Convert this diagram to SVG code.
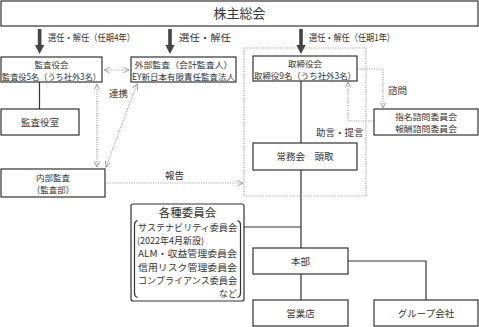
<svg xmlns="http://www.w3.org/2000/svg" width="479" height="327" viewBox="0 0 479 327">
<defs>
<marker id="ah" viewBox="0 0 10 10" refX="9" refY="5" markerWidth="7" markerHeight="7" orient="auto-start-reverse" markerUnits="userSpaceOnUse">
<path d="M1,1 L9,5 L1,9" fill="none" stroke="#999" stroke-width="1.3"/>
</marker>
</defs>
<style>
text{font-family:"Noto Sans CJK JP","Liberation Serif",serif;font-size:9.5px;fill:#333}
.c{text-anchor:middle}
.t2{font-size:8.5px}
.box{fill:#fff;stroke:#333;stroke-width:1.2}
.ln{fill:none;stroke:#333;stroke-width:1.2}
.dot{fill:none;stroke:#a8a8a8;stroke-width:1.2;stroke-dasharray:1.2 1.2}
.thick{fill:#444}
.k{font-size:9px}
</style>
<rect width="479" height="327" fill="#fff"/>
<g id="connectors">
<path class="ln" d="M301,81 V143 M301,170 V248 M244,227 H301 M301,274 V300 M348,261 H426 V300 M39.5,82 V109"/>
<rect class="dot" x="244" y="48" width="122" height="148"/>
<path class="dot" d="M104,70 H129" marker-start="url(#ah)" marker-end="url(#ah)"/>
<path class="dot" d="M97,84 V167" marker-start="url(#ah)" marker-end="url(#ah)"/>
<path class="dot" d="M137,84 L106,167" marker-start="url(#ah)" marker-end="url(#ah)"/>
<path class="dot" d="M105,183 H243" marker-end="url(#ah)"/>
<path class="dot" d="M357,69 H383 V108" marker-end="url(#ah)"/>
<path class="dot" d="M374,121 H348 V82" marker-end="url(#ah)"/>
<g class="thick">
<rect x="37.8" y="29" width="3.6" height="17"/><polygon points="35,45 44.2,45 39.6,54"/>
<rect x="168.2" y="29" width="3.6" height="17"/><polygon points="165.4,45 174.6,45 170,54"/>
<rect x="299.2" y="29" width="3.6" height="17"/><polygon points="296.4,45 305.6,45 301,54"/>
</g>
<text x="48" y="41" textLength="87" lengthAdjust="spacingAndGlyphs">選任・解任（任期4年）</text>
<text x="179" y="41" textLength="52" lengthAdjust="spacingAndGlyphs">選任・解任</text>
<text x="309" y="41" textLength="86" lengthAdjust="spacingAndGlyphs">選任・解任（任期1年）</text>
<text x="109" y="97">連携</text>
<text x="165" y="179">報告</text>
<text x="388" y="94">諮問</text>
<text x="316" y="136">助言・提言</text>
</g>
<g id="kabunushi">
<rect class="box" x="1" y="1" width="477" height="25"/>
<text class="c" x="239.5" y="18" style="font-size:13px">株主総会</text>
</g>
<g id="kansayakukai">
<rect class="box" x="1" y="57" width="101" height="25"/>
<text class="t2 c" x="51.5" y="67.5">監査役会</text>
<text class="t2" x="2" y="79.8" textLength="99" lengthAdjust="spacingAndGlyphs">監査役5名（うち社外3名）</text>
</g>
<g id="gaibu">
<rect class="box" x="131" y="57" width="105" height="25"/>
<text class="t2 c" x="183.5" y="67.5" textLength="98" lengthAdjust="spacingAndGlyphs">外部監査（会計監査人）</text>
<text class="t2" x="132" y="79.8" textLength="103" lengthAdjust="spacingAndGlyphs">EY新日本有限責任監査法人</text>
</g>
<g id="torishimariyakukai">
<rect class="box" x="253" y="56" width="104" height="25"/>
<text class="t2 c" x="305" y="66.5">取締役会</text>
<text class="t2" x="254" y="78.8" textLength="102" lengthAdjust="spacingAndGlyphs">取締役9名（うち社外3名）</text>
</g>
<g id="kansayakushitsu">
<rect class="box" x="1" y="109" width="78" height="26"/>
<text class="c" x="40" y="125.5">監査役室</text>
</g>
<g id="shimei">
<rect class="box" x="374" y="109" width="104" height="26"/>
<text class="t2 c" x="426" y="119.5" textLength="62" lengthAdjust="spacingAndGlyphs">指名諮問委員会</text>
<text class="t2 c" x="426" y="131.8" textLength="62" lengthAdjust="spacingAndGlyphs">報酬諮問委員会</text>
</g>
<g id="jomukai">
<rect class="box" x="253" y="143" width="104" height="27"/>
<text class="c" x="305" y="160">常務会　頭取</text>
</g>
<g id="naibu">
<rect class="box" x="1" y="169" width="104" height="28"/>
<text class="t2 c" x="53" y="181">内部監査</text>
<text class="t2 c" x="53" y="193.3">（監査部）</text>
</g>
<g id="iinkai">
<rect class="box" x="131" y="204" width="113" height="97" rx="2"/>
<text class="c" x="187.5" y="217" style="font-size:11.5px">各種委員会</text>
<path class="ln" d="M137.5,220.5 Q134.5,221.5 134.5,225 V293 Q134.5,296.5 137.5,297.5"/>
<path class="ln" d="M237.5,220.5 Q240.5,221.5 240.5,225 V293 Q240.5,296.5 237.5,297.5"/>
<text class="k" x="138" y="230.5" textLength="99" lengthAdjust="spacingAndGlyphs">サステナビリティ委員会</text>
<text class="k" x="137" y="243.5">(2022年4月新設)</text>
<text class="k" x="138" y="257" textLength="99" lengthAdjust="spacingAndGlyphs">ALM・収益管理委員会</text>
<text class="k" x="138" y="270.5" textLength="99" lengthAdjust="spacingAndGlyphs">信用リスク管理委員会</text>
<text class="k" x="138" y="284" textLength="99" lengthAdjust="spacingAndGlyphs">コンプライアンス委員会</text>
<text class="k" x="237" y="297" style="text-anchor:end">など</text>
</g>
<g id="honbu">
<rect class="box" x="253" y="248" width="95" height="26"/>
<text class="c" x="300.5" y="264.5">本部</text>
</g>
<g id="eigyoten">
<rect class="box" x="253" y="300" width="95" height="26"/>
<text class="c" x="300.5" y="316.5">営業店</text>
</g>
<g id="group">
<rect class="box" x="374" y="300" width="104" height="26"/>
<text class="c" x="426" y="316.5">グループ会社</text>
</g>
</svg>
